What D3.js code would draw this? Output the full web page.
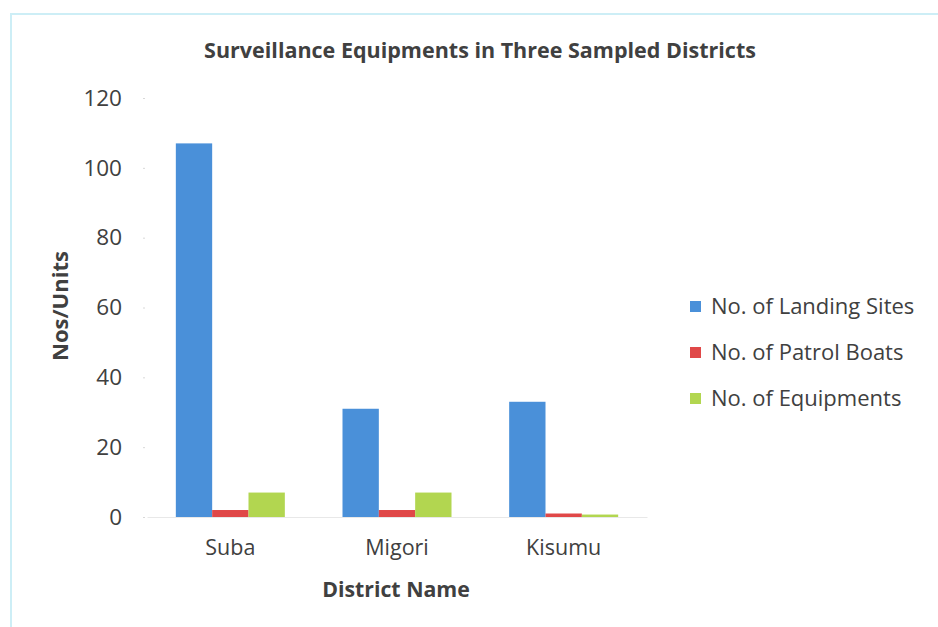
<!DOCTYPE html>
<html>
<head>
<meta charset="utf-8">
<script src="https://cdn.jsdelivr.net/npm/d3@7"></script>
<style>
  body { margin: 0; background: #fff; }
  text { font-family: "Open Sans", "DejaVu Sans", sans-serif; fill: #404040; }
</style>
</head>
<body>
<div id="chart"></div>
<script>
// Variables
const width = 938;
const height = 627;

const districts = ['Suba', 'Migori', 'Kisumu'];
const seriesNames = ['No. of Landing Sites', 'No. of Patrol Boats', 'No. of Equipments'];
const landingSites = [107, 31, 33];
const patrolBoats = [2, 2, 1];
const equipments = [7, 7, 0.7];
const yTicks = [0, 20, 40, 60, 80, 100, 120];
const colors = ['#4a90d9', '#e04848', '#b2d650'];

const chartTitle = 'Surveillance Equipments in Three Sampled Districts';
const xAxisLabel = 'District Name';
const yAxisLabel = 'Nos/Units';

const plot = { left: 147, right: 647, top: 98, bottom: 517 };

const data = districts.map((d, i) => ({
    district: d,
    values: [landingSites[i], patrolBoats[i], equipments[i]]
}));

const svg = d3.select('#chart')
    .append('svg')
        .attr('width', width)
        .attr('height', height);

// frame (only top and left edges are visible in the picture)
svg.append('rect')
    .attr('x', 11).attr('y', 14)
    .attr('width', width + 20).attr('height', height + 20)
    .attr('fill', 'none')
    .attr('stroke', '#cdeef6')
    .attr('stroke-width', 2);

// Scales
const xScale = d3.scaleBand()
    .domain(districts)
    .range([plot.left, plot.right]);

const xInner = d3.scaleBand()
    .domain(d3.range(seriesNames.length))
    .range([0, 109]);

const yScale = d3.scaleLinear()
    .domain([0, 120])
    .range([plot.bottom, plot.top]);

// Y axis
const yAxisGroup = svg.append('g')
    .attr('transform', `translate(${plot.left - 2}, 0)`)
    .call(d3.axisLeft(yScale).tickValues(yTicks).tickSize(2).tickPadding(21));
yAxisGroup.select('.domain').remove();
yAxisGroup.selectAll('line').attr('stroke', '#d8d8d8');
yAxisGroup.selectAll('text')
    .attr('font-size', 22.5)
    .attr('fill', '#404040')
    .style('font-family', '"Open Sans", sans-serif');

// X axis
const xAxisGroup = svg.append('g')
    .attr('transform', `translate(0, ${plot.bottom})`)
    .call(d3.axisBottom(xScale).tickSize(0).tickPadding(23));
xAxisGroup.select('.domain').attr('stroke', '#e8e8e8');
xAxisGroup.selectAll('text')
    .attr('font-size', 21.5)
    .attr('fill', '#404040')
    .style('font-family', '"Open Sans", sans-serif');

// Bars
const groups = svg.append('g')
    .selectAll('g')
    .data(data)
    .enter().append('g')
        .attr('transform', d => `translate(${xScale(d.district) + (xScale.bandwidth() - 109) / 2}, 0)`);

groups.selectAll('rect')
    .data(d => d.values)
    .enter().append('rect')
        .attr('x', (d, i) => xInner(i))
        .attr('width', xInner.bandwidth())
        .attr('y', d => yScale(d))
        .attr('height', d => yScale(0) - yScale(d))
        .attr('fill', (d, i) => colors[i]);

// Title
svg.append('text')
    .text(chartTitle)
    .attr('x', 480).attr('y', 58)
    .attr('text-anchor', 'middle')
    .attr('font-size', 21.5)
    .attr('font-weight', 'bold')
    .attr('fill', '#1e1e1e');

// Axis titles
svg.append('text')
    .text(xAxisLabel)
    .attr('x', 396).attr('y', 597)
    .attr('text-anchor', 'middle')
    .attr('font-size', 21.3)
    .attr('font-weight', 'bold')
    .attr('fill', '#1e1e1e');

svg.append('text')
    .text(yAxisLabel)
    .attr('transform', 'translate(68, 306) rotate(-90)')
    .attr('text-anchor', 'middle')
    .attr('font-size', 22)
    .attr('font-weight', 'bold')
    .attr('fill', '#1e1e1e');

// Legend
const legend = svg.append('g')
    .selectAll('g')
    .data(seriesNames)
    .enter().append('g')
        .attr('transform', (d, i) => `translate(690, ${306 + i * 46})`);

legend.append('rect')
    .attr('x', 0).attr('y', -5)
    .attr('width', 11).attr('height', 11)
    .attr('fill', (d, i) => colors[i]);

legend.append('text')
    .text(d => d)
    .attr('x', 21).attr('y', 8)
    .attr('font-size', 22)
    .attr('fill', '#404040');
</script>
</body>
</html>
